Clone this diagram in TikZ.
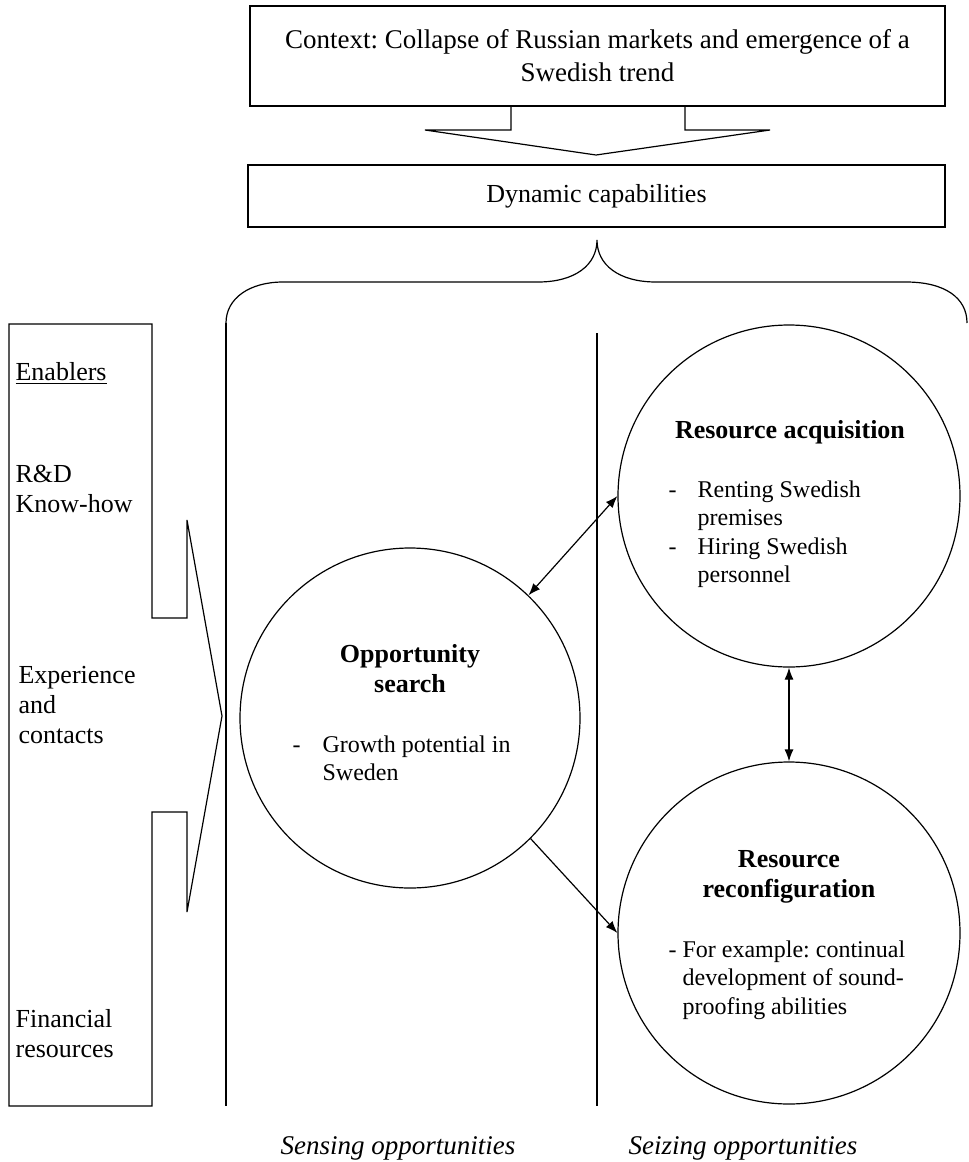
\documentclass[tikz,border=0pt]{standalone}
\usepackage{fontspec}
\setmainfont{Liberation Serif}
\usetikzlibrary{arrows.meta}
\frenchspacing

\begin{document}
\begin{tikzpicture}
    [
        x = 0.5pt, y = -0.5pt,
        line width = 0.6pt,
        >={Latex[length=6pt,width=4.5pt]},
        font = \fontsize{13}{15}\selectfont,
        box/.style      = {draw, inner sep=0pt, align=center},
        bubble/.style   = {draw, circle, inner sep=0pt, minimum size=171pt},
        heading/.style  = {anchor=base, inner sep=0pt, font=\fontsize{13}{15}\selectfont\bfseries},
        txt/.style      = {anchor=base west, inner sep=0pt},
        small/.style    = {txt, font=\fontsize{12}{14.3}\selectfont},
        sidenote/.style = {txt, font=\fontsize{13.5}{15}\selectfont\itshape}
    ]
    \useasboundingbox (0,0) rectangle (969,1162);

    % context and capabilities
    \node [box, minimum width=347.5pt, minimum height=50pt, font=\fontsize{13.5}{16.5}\selectfont] (context) at (597.5,56)
        {Context: Collapse of Russian markets and emergence of a\\Swedish trend};
    \node [box, minimum width=348.5pt, minimum height=31pt] (dyncap) at (596.5,196) {Dynamic capabilities};
    \draw (511,106) -- (511,130) -- (425,130) -- (596,155) -- (770,130) -- (685,130) -- (685,106);

    % brace and columns
    \draw (226,323) .. controls (226,298) and (250,282) .. (283,282) -- (538,282)
          .. controls (575,282) and (597,265) .. (597,240)
          .. controls (597,265) and (619,282) .. (656,282) -- (906,282)
          .. controls (945,282) and (967,298) .. (967,323);
    \draw (226,323) -- (226,1106);
    \draw (597,333) -- (597,1106);

    % enablers
    \draw (9,324) -- (152,324) -- (152,618) -- (187,618) -- (187,520) -- (222,716)
          -- (187,912) -- (187,812) -- (152,812) -- (152,1106) -- (9,1106) -- cycle;
    \node [txt] (enablers) at (15,380) {\underline{Enablers}};
    \node [txt] (knowhow) at (15,482) {\begin{tabular}[t]{@{}l@{}}R\&D\\Know-how\end{tabular}};
    \node [txt] (experience) at (18,683) {\begin{tabular}[t]{@{}l@{}}Experience\\and\\contacts\end{tabular}};
    \node [txt] (financial) at (15,1027) {\begin{tabular}[t]{@{}l@{}}Financial\\resources\end{tabular}};

    % circles
    \node [bubble, minimum size=170pt] (opp) at (410,718) {};
    \node [bubble] (acq) at (789,496) {};
    \node [bubble] (reconf) at (789,933) {};

    \node [heading] (opptitle) at (410,662) {\begin{tabular}[t]{@{}c@{}}Opportunity\\search\end{tabular}};
    \node [small] (oppitems) at (292,752)
        {\begin{tabular}[t]{@{}p{15pt}@{}l@{}}-&Growth potential in\\&Sweden\end{tabular}};

    \node [heading] (acqtitle) at (790,438) {Resource acquisition};
    \node [small] (acqitems) at (668,497)
        {\begin{tabular}[t]{@{}p{14.5pt}@{}l@{}}-&Renting Swedish\\&premises\\-&Hiring Swedish\\&personnel\end{tabular}};

    \node [heading] (reconftitle) at (789,867) {\begin{tabular}[t]{@{}c@{}}Resource\\reconfiguration\end{tabular}};
    \node [small] (reconfitems) at (668,957)
        {\begin{tabular}[t]{@{}p{7pt}@{}l@{}}-&For example: continual\\&development of sound-\\&proofing abilities\end{tabular}};

    \draw [<->] (opp.46) -- (acq.180);
    \draw [<->] (acq.south) -- (reconf.north);
    \draw [->] (opp.-45) -- (reconf.180);

    \node [sidenote] (sensing) at (280,1154) {Sensing opportunities};
    \node [sidenote] (seizing) at (628,1154) {Seizing opportunities};
\end{tikzpicture}
\end{document}
